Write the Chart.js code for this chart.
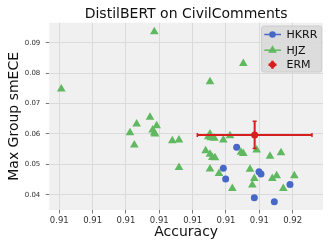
<!DOCTYPE html>
<html>
<head>
<meta charset="utf-8">
<script src="https://cdn.jsdelivr.net/npm/chart.js@4/dist/chart.umd.min.js"></script>
<style>
  html, body { margin: 0; padding: 0; background: #fff; }
  canvas { display: block; }
</style>
</head>
<body>
<canvas id="chart" width="332" height="249"></canvas>
<script>
// HKRR points (accuracy, max group smECE)
const hkrrX = [0.91332, 0.91292, 0.91299, 0.91385, 0.91399, 0.91405, 0.91445, 0.91492];
const hkrrY = [0.0556, 0.0487, 0.0452, 0.0390, 0.0476, 0.0468, 0.0377, 0.0434];

// HJZ points
const hjzX = [0.90806, 0.91085, 0.91352, 0.91252, 0.91072, 0.91032, 0.91092, 0.91012, 0.91080, 0.91085,
              0.91087, 0.91025, 0.91139, 0.91159, 0.91159, 0.91247, 0.91252, 0.91255, 0.91265, 0.91292,
              0.91312, 0.91239, 0.91252, 0.91259, 0.91267, 0.91252, 0.91279, 0.91319, 0.91345, 0.91352,
              0.91392, 0.91372, 0.91385, 0.91379, 0.91432, 0.91465, 0.91439, 0.91452, 0.91472, 0.91505];
const hjzY = [0.0748, 0.0936, 0.0832, 0.0772, 0.0655, 0.0633, 0.0627, 0.0604, 0.0613, 0.0604,
              0.0600, 0.0564, 0.0578, 0.0580, 0.0490, 0.0591, 0.0600, 0.0588, 0.0586, 0.0580,
              0.0594, 0.0545, 0.0533, 0.0523, 0.0522, 0.0485, 0.0470, 0.0421, 0.0540, 0.0536,
              0.0547, 0.0484, 0.0454, 0.0432, 0.0527, 0.0538, 0.0454, 0.0463, 0.0421, 0.0463];

// ERM mean with error bars
const ermX = 0.91386;
const ermY = 0.0597;
const ermXErr = 0.00172;
const ermYErr = 0.0045;

const xTicks = [0.908, 0.909, 0.910, 0.911, 0.912, 0.913, 0.914, 0.915];
const yTicks = [0.04, 0.05, 0.06, 0.07, 0.08, 0.09];

const BLUE = 'rgb(72,104,200)';
const GREEN = 'rgb(96,184,96)';
const RED = 'rgb(214,30,30)';

Chart.defaults.font.family = 'DejaVu Sans';
Chart.defaults.color = '#333';

function toPoints(xs, ys) {
    return xs.map((x, i) => ({ x: x, y: ys[i] }));
}

// fond cinza da área do gráfico
const plotBg = {
    id: 'plotBg',
    beforeDraw(chart) {
        const a = chart.chartArea;
        const ctx = chart.ctx;
        ctx.save();
        ctx.fillStyle = '#f0f0f0';
        ctx.fillRect(a.left, a.top, a.right - a.left, a.bottom - a.top);
        ctx.restore();
    }
};

// título e legenda desenhados à mão (estilo matplotlib)
const overlay = {
    id: 'overlay',
    afterDraw(chart) {
        const a = chart.chartArea;
        const ctx = chart.ctx;
        ctx.save();
        ctx.fillStyle = '#111';
        ctx.font = '14px "DejaVu Sans"';
        ctx.textAlign = 'center';
        ctx.textBaseline = 'alphabetic';
        ctx.fillText('DistilBERT on CivilComments', (a.left + a.right) / 2, 18.3);

        // caixa da legenda
        const bx = 261.7, by = 26, bw = 60, bh = 46;
        ctx.fillStyle = 'rgba(218,218,218,0.95)';
        ctx.strokeStyle = '#cccccc';
        ctx.lineWidth = 1;
        ctx.beginPath();
        ctx.roundRect(bx, by, bw, bh, 2);
        ctx.fill();
        ctx.stroke();

        const rows = [
            { label: 'HKRR', y: 34.5, color: BLUE, kind: 'circle' },
            { label: 'HJZ', y: 50.2, color: GREEN, kind: 'triangle' },
            { label: 'ERM', y: 64.8, color: RED, kind: 'err' }
        ];
        rows.forEach(r => {
            const mx = 272.5;
            ctx.strokeStyle = r.color;
            ctx.fillStyle = r.color;
            if (r.kind !== 'err') {
                ctx.lineWidth = 1.5;
                ctx.beginPath();
                ctx.moveTo(264.3, r.y);
                ctx.lineTo(281, r.y);
                ctx.stroke();
            }
            if (r.kind === 'circle') {
                ctx.beginPath();
                ctx.arc(mx, r.y, 3.3, 0, Math.PI * 2);
                ctx.fill();
            } else if (r.kind === 'triangle') {
                const s = 5;
                ctx.beginPath();
                ctx.moveTo(mx, r.y - s);
                ctx.lineTo(mx + s * 0.866, r.y + s / 2);
                ctx.lineTo(mx - s * 0.866, r.y + s / 2);
                ctx.closePath();
                ctx.fill();
            } else {
                ctx.lineWidth = 2.5;
                ctx.beginPath();
                ctx.moveTo(mx - 4, r.y);
                ctx.lineTo(mx + 4, r.y);
                ctx.moveTo(mx, r.y - 4);
                ctx.lineTo(mx, r.y + 4);
                ctx.stroke();
                ctx.beginPath();
                ctx.arc(mx, r.y, 3, 0, Math.PI * 2);
                ctx.fill();
            }
            ctx.fillStyle = '#111';
            ctx.font = '11px "DejaVu Sans"';
            ctx.textAlign = 'left';
            ctx.textBaseline = 'middle';
            ctx.fillText(r.label, 286.5, r.y + 0.5);
        });
        ctx.restore();
    }
};

new Chart(document.getElementById('chart'), {
    type: 'scatter',
    data: {
        datasets: [
            {
                label: 'ERM',
                data: [{ x: ermX, y: ermY }],
                backgroundColor: RED,
                borderColor: RED,
                pointRadius: 3.5,
                pointBorderWidth: 0
            },
            {
                label: 'ERM xerr',
                data: [{ x: ermX - ermXErr, y: ermY }, { x: ermX + ermXErr, y: ermY }],
                showLine: true,
                borderColor: RED,
                borderWidth: 2,
                pointStyle: 'line',
                pointRotation: 90,
                pointRadius: 2,
                pointBorderColor: RED,
                pointBorderWidth: 1.5
            },
            {
                label: 'ERM yerr',
                data: [{ x: ermX, y: ermY - ermYErr }, { x: ermX, y: ermY + ermYErr }],
                showLine: true,
                borderColor: RED,
                borderWidth: 2,
                pointStyle: 'line',
                pointRotation: 0,
                pointRadius: 2,
                pointBorderColor: RED,
                pointBorderWidth: 1.5
            },
            {
                label: 'HJZ',
                data: toPoints(hjzX, hjzY),
                pointStyle: 'triangle',
                backgroundColor: GREEN,
                borderColor: GREEN,
                pointRadius: 5,
                pointBorderWidth: 0
            },
            {
                label: 'HKRR',
                data: toPoints(hkrrX, hkrrY),
                backgroundColor: BLUE,
                borderColor: BLUE,
                pointRadius: 3.5,
                pointBorderWidth: 0
            }
        ]
    },
    options: {
        responsive: false,
        animation: false,
        devicePixelRatio: 1,
        layout: { padding: { top: 22.7, right: 9, left: 0, bottom: 0 } },
        plugins: {
            legend: { display: false },
            title: { display: false },
            tooltip: { enabled: false }
        },
        scales: {
            x: {
                type: 'linear',
                min: 0.9077,
                max: 0.91591,
                afterBuildTicks: s => { s.ticks = xTicks.map(v => ({ value: v })); },
                afterFit: s => { s.height = 39; },
                ticks: {
                    callback: v => v.toFixed(2),
                    font: { size: 8.5 },
                    color: '#333',
                    padding: 2,
                    maxRotation: 0
                },
                grid: { color: '#dadada', tickColor: '#777', tickLength: 3.5 },
                border: { display: false },
                title: {
                    display: true,
                    text: 'Accuracy',
                    font: { size: 14 },
                    color: '#111',
                    padding: { top: 0, bottom: 8 }
                }
            },
            y: {
                min: 0.035,
                max: 0.0966,
                afterBuildTicks: s => { s.ticks = yTicks.map(v => ({ value: v })); },
                afterFit: s => { s.width = 49.3; },
                ticks: {
                    callback: v => v.toFixed(2),
                    font: { size: 7 },
                    color: '#333',
                    padding: 5.5
                },
                grid: { color: '#dadada', tickColor: '#777', tickLength: 3.5 },
                border: { display: false },
                title: {
                    display: true,
                    text: 'Max Group smECE',
                    font: { size: 14 },
                    color: '#111',
                    padding: { top: 6, bottom: 0 }
                }
            }
        }
    },
    plugins: [plotBg, overlay]
});
</script>
</body>
</html>
